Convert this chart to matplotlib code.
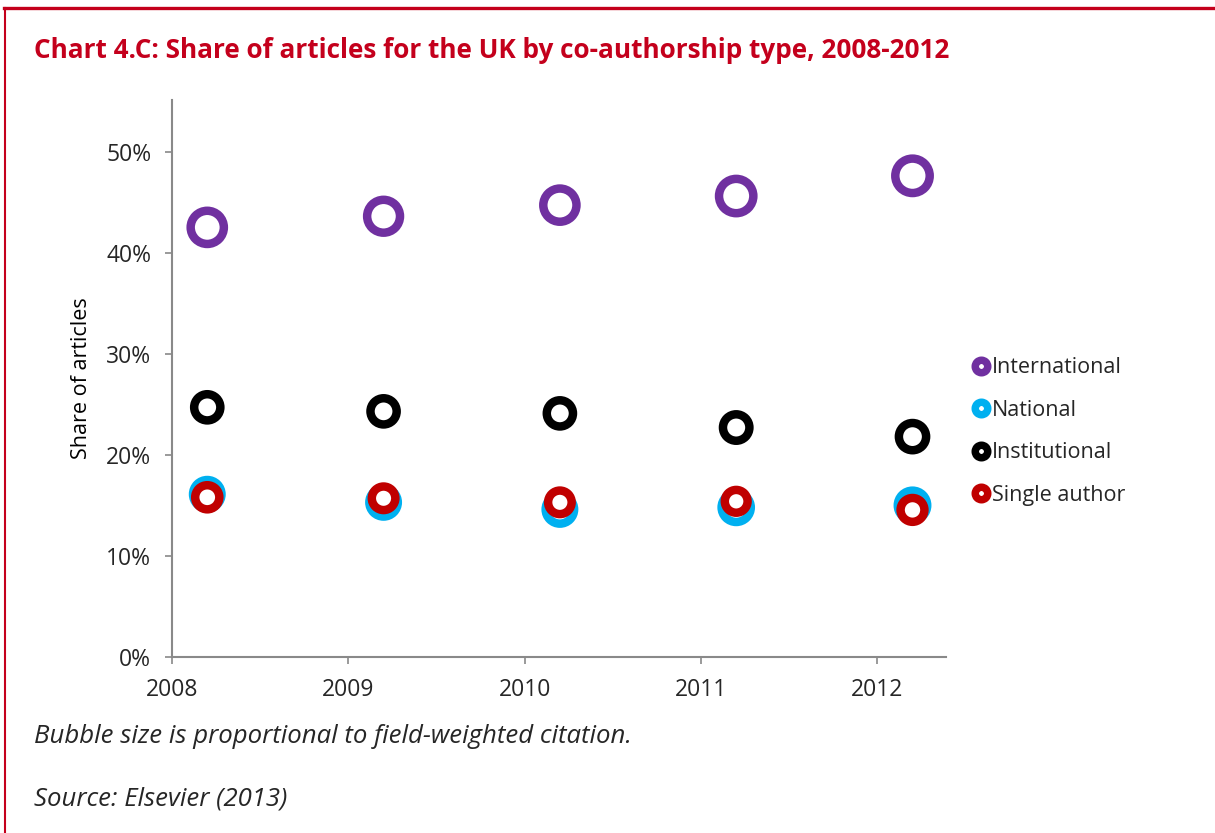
import matplotlib
matplotlib.use("Agg")
import matplotlib.pyplot as plt
from matplotlib.lines import Line2D
from matplotlib.ticker import PercentFormatter

plt.rcParams["font.family"] = ["Open Sans", "DejaVu Sans"]

years = [2008, 2009, 2010, 2011, 2012]
series_names = ["International", "National", "Institutional", "Single author"]
series_colors = ["#7030A0", "#00B0F0", "#000000", "#C00000"]

# share of articles (%)
international = [42.5, 43.6, 44.7, 45.6, 47.6]
national = [16.1, 15.3, 14.6, 14.8, 15.0]
institutional = [24.7, 24.3, 24.1, 22.7, 21.8]
single_author = [15.8, 15.7, 15.3, 15.4, 14.55]

# field-weighted citation (bubble size)
fwci_international = [1.59, 1.56, 1.59, 1.70, 1.71]
fwci_national = [1.17, 1.17, 1.17, 1.23, 1.25]
fwci_institutional = [0.99, 0.99, 0.99, 1.01, 1.07]
fwci_single_author = [0.84, 0.80, 0.80, 0.75, 0.82]

shares = [international, national, institutional, single_author]
fwcis = [fwci_international, fwci_national, fwci_institutional, fwci_single_author]

red = "#C4001C"
grey = "#898989"
text_col = "#262626"

fig = plt.figure(figsize=(12.15, 8.33), dpi=100)
ax = fig.add_axes([172 / 1215, 1 - 657 / 833, (946 - 172) / 1215, 557 / 833])

x_shift = 0.2  # bubbles sit a little after the year tick
for vals, sizes, col in zip(shares, fwcis, series_colors):
    ax.scatter([y + x_shift for y in years], vals, s=[f * 359 for f in sizes],
               facecolors="white", edgecolors=col, linewidths=6.1, zorder=3)

ax.set_xlim(2008, 2012.39)
ax.set_ylim(0, 55.1)
ax.set_xticks(years)
ax.set_yticks([0, 10, 20, 30, 40, 50])
ax.yaxis.set_major_formatter(PercentFormatter(xmax=100, decimals=0))
for side in ["top", "right"]:
    ax.spines[side].set_visible(False)
for side in ["left", "bottom"]:
    ax.spines[side].set_color(grey)
    ax.spines[side].set_linewidth(1.5)
ax.tick_params(axis="both", colors=grey, width=1.2, length=5, labelsize=16.5,
               labelcolor=text_col)
ax.tick_params(axis="y", pad=10)
ax.tick_params(axis="x", pad=10)
ax.set_ylabel("Share of articles", fontsize=15.5, color="black", labelpad=10)

handles = [Line2D([], [], ls="", marker="o", markersize=9, markeredgewidth=5.4,
                  markerfacecolor="white", markeredgecolor=c) for c in series_colors]
fig.legend(handles, series_names, loc="upper left", bbox_to_anchor=(0.8006, 0.571),
           bbox_transform=fig.transFigure, frameon=False, fontsize=15.5,
           handlelength=0.8, handletextpad=0.1, labelspacing=1.0, borderpad=0,
           borderaxespad=0, labelcolor=text_col)

fig.text(34 / 1215, 1 - 58 / 833, "Chart 4.C: Share of articles for the UK by co-authorship type, 2008-2012",
         fontsize=18.8, fontweight="bold", color=red, va="baseline")
fig.text(34 / 1215, 1 - 743 / 833, "Bubble size is proportional to field-weighted citation.",
         fontsize=18.5, style="italic", color=text_col, va="baseline")
fig.text(34 / 1215, 1 - 806 / 833, "Source: Elsevier (2013)",
         fontsize=18.5, style="italic", color=text_col, va="baseline")

# red frame on top and left edge
fig.add_artist(Line2D([4 / 1215, 1], [1 - 8 / 833, 1 - 8 / 833], color=red, lw=2.4,
                      transform=fig.transFigure))
fig.add_artist(Line2D([4.5 / 1215, 4.5 / 1215], [0, 1 - 8 / 833], color=red, lw=1.5,
                      transform=fig.transFigure))

fig.savefig("out.png", dpi=100, facecolor="white")
